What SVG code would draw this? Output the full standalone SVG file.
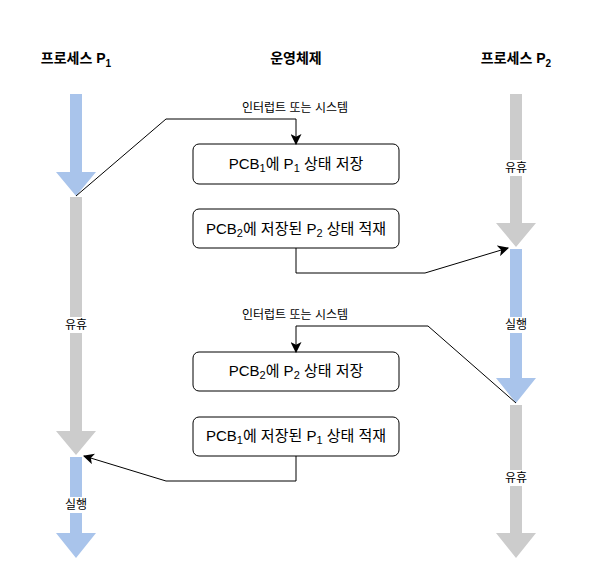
<svg xmlns="http://www.w3.org/2000/svg" width="590" height="588" viewBox="0 0 590 588">
<style>
text{font-family:"Liberation Sans","Noto Sans CJK KR",sans-serif;fill:#000}
.hdr{font-size:14px;font-weight:bold;text-anchor:middle}
.box{fill:#fff;stroke:#000;stroke-width:1}
.bt{font-size:15px;text-anchor:middle}
.lbl{font-size:12px;text-anchor:middle}
.blue{fill:#A9C4EB}
.gray{fill:#CCCCCC}
.conn{fill:none;stroke:#000;stroke-width:1}
</style>
<defs>
<marker id="ah" viewBox="0 0 10 10" refX="9" refY="5" markerWidth="11" markerHeight="11" markerUnits="userSpaceOnUse" orient="auto">
<path d="M0,0 L10,5 L0,10 L2.5,5 Z" fill="#000"/>
</marker>
</defs>
<rect width="590" height="588" fill="#fff"/>
<g id="headers">
<text class="hdr" x="76" y="63">프로세스 P<tspan font-size="10" dy="4">1</tspan></text>
<text class="hdr" x="296" y="63">운영체제</text>
<text class="hdr" x="516" y="63">프로세스 P<tspan font-size="10" dy="4">2</tspan></text>
</g>
<g id="p1-run1"><polygon class="blue" points="70,94 82,94 82,172 96,172 76,196 56,172 70,172"/></g>
<g id="p1-idle">
<polygon class="gray" points="70,197 82,197 82,431 96,431 76,455 56,431 70,431"/>
<rect x="61" y="317" width="30" height="16" fill="#fff"/>
<text class="lbl" x="76" y="329">유휴</text>
</g>
<g id="p1-run2">
<polygon class="blue" points="70,457 82,457 82,533 96,533 76,558 56,533 70,533"/>
<rect x="61" y="497" width="30" height="16" fill="#fff"/>
<text class="lbl" x="76" y="509">실행</text>
</g>
<g id="p2-idle1">
<polygon class="gray" points="510,94 522,94 522,223 536,223 516,247 496,223 510,223"/>
<rect x="501" y="160" width="30" height="16" fill="#fff"/>
<text class="lbl" x="516" y="172">유휴</text>
</g>
<g id="p2-run">
<polygon class="blue" points="510,249 522,249 522,378 536,378 516,403 496,378 510,378"/>
<rect x="501" y="317" width="30" height="16" fill="#fff"/>
<text class="lbl" x="516" y="329">실행</text>
</g>
<g id="p2-idle2">
<polygon class="gray" points="510,405 522,405 522,533 536,533 516,558 496,533 510,533"/>
<rect x="501" y="470" width="30" height="16" fill="#fff"/>
<text class="lbl" x="516" y="482">유휴</text>
</g>
<g id="box1">
<rect class="box" x="193" y="144" width="206" height="40" rx="6"/>
<text class="bt" x="296" y="169">PCB<tspan font-size="11" dy="3">1</tspan><tspan dy="-3">에 P</tspan><tspan font-size="11" dy="3">1</tspan><tspan dy="-3"> 상태 저장</tspan></text>
</g>
<g id="box2">
<rect class="box" x="193" y="209" width="206" height="39" rx="6"/>
<text class="bt" x="296" y="234">PCB<tspan font-size="11" dy="3">2</tspan><tspan dy="-3">에 저장된 P</tspan><tspan font-size="11" dy="3">2</tspan><tspan dy="-3"> 상태 적재</tspan></text>
</g>
<g id="box3">
<rect class="box" x="193" y="352" width="206" height="39" rx="6"/>
<text class="bt" x="296" y="376">PCB<tspan font-size="11" dy="3">2</tspan><tspan dy="-3">에 P</tspan><tspan font-size="11" dy="3">2</tspan><tspan dy="-3"> 상태 저장</tspan></text>
</g>
<g id="box4">
<rect class="box" x="193" y="417" width="206" height="39" rx="6"/>
<text class="bt" x="296" y="441">PCB<tspan font-size="11" dy="3">1</tspan><tspan dy="-3">에 저장된 P</tspan><tspan font-size="11" dy="3">1</tspan><tspan dy="-3"> 상태 적재</tspan></text>
</g>
<g id="connectors">
<polyline class="conn" points="76,196 166,119 296,119 296,144" marker-end="url(#ah)"/>
<polyline class="conn" points="296,248 296,273 425,273 508,248" marker-end="url(#ah)"/>
<polyline class="conn" points="516,403 428,326 296,326 296,352" marker-end="url(#ah)"/>
<polyline class="conn" points="296,456 296,481 166,481 84,456" marker-end="url(#ah)"/>
<text class="lbl" x="295" y="112">인터럽트 또는 시스템</text>
<text class="lbl" x="295" y="319">인터럽트 또는 시스템</text>
</g>
</svg>
